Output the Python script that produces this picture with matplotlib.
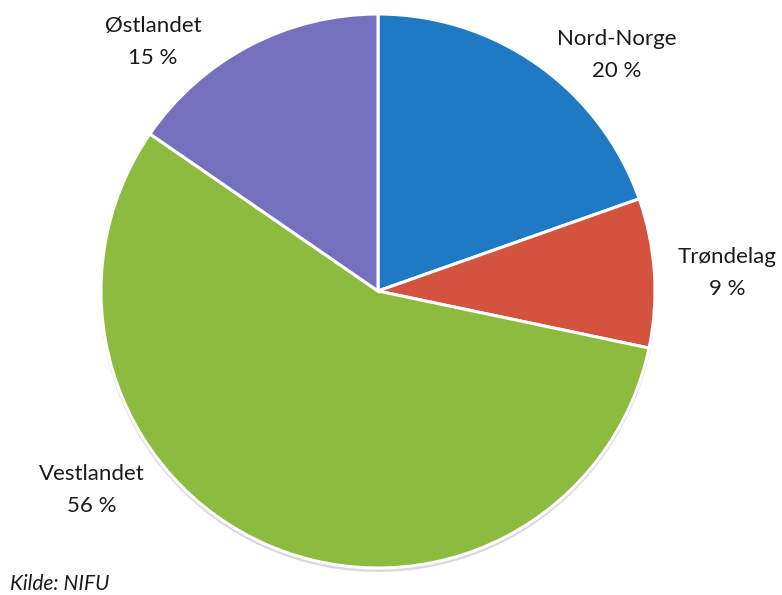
import matplotlib
matplotlib.use("Agg")
import matplotlib.pyplot as plt
from matplotlib.patches import Circle

# Data
regions = ["Nord-Norge", "Trøndelag", "Vestlandet", "Østlandet"]
shares = [19.6, 8.7, 56.3, 15.4]
colors = ["#1f7ac4", "#d4533f", "#8dbb3f", "#7470bd"]
source = "Kilde: NIFU"

W, H = 782, 595
fig = plt.figure(figsize=(W / 100, H / 100), dpi=100)
fig.patch.set_facecolor("white")
ax = fig.add_axes([0, 0, 1, 1])

cx, cy, r = 378, H - 291, 277

# faint shadow under the pie
ax.add_patch(Circle((cx, cy - 3), r + 1, facecolor="#d9d9e3", edgecolor="none", zorder=0))

ax.pie(shares, colors=colors, startangle=90, counterclock=False,
       center=(cx, cy), radius=r,
       wedgeprops=dict(edgecolor="white", linewidth=2.2))
ax.set_xlim(0, W)
ax.set_ylim(0, H)
ax.axis("off")

font = "Lato"
fs = 16
# label positions (pixels, x center, name baseline y, value baseline y)
label_pos = {
    "Nord-Norge": (617, 45, 77),
    "Trøndelag": (727, 263, 295),
    "Vestlandet": (92, 480, 512),
    "Østlandet": (153, 32, 64),
}
for name, val in zip(regions, shares):
    x, y1, y2 = label_pos[name]
    ax.text(x, H - y1, name, ha="center", va="baseline", fontsize=fs,
            family=font, color="#1a1a1a")
    ax.text(x, H - y2, f"{val:.0f} %", ha="center", va="baseline", fontsize=fs,
            family=font, color="#1a1a1a")

ax.text(10, H - 590, source, ha="left", va="baseline", fontsize=15,
        family=font, style="italic", color="#1a1a1a")

fig.savefig("out.png", dpi=100, facecolor="white")
